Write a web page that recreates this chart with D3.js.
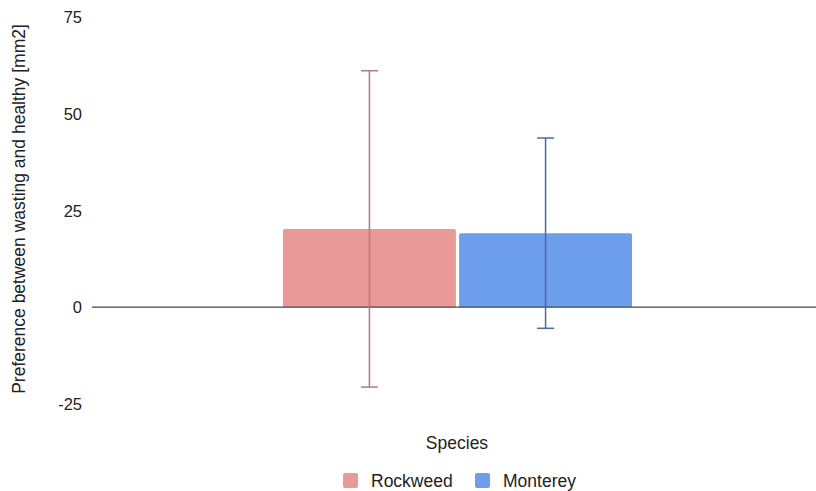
<!DOCTYPE html>
<html><head><meta charset="utf-8">
<script src="https://cdn.jsdelivr.net/npm/d3@7"></script>
<style>body{margin:0;background:#fff;}svg{display:block;font-family:"Liberation Sans",Arial,sans-serif;}</style>
</head><body><svg id="c" width="816" height="491"></svg>
<script>
const categories = [""];
const series = ["Rockweed", "Monterey"];
const values = [20.2, 19.1];
const errors = [40.9, 24.6];
const yTicks = [-25, 0, 25, 50, 75];
const colors = ["#ea9999", "#6d9eeb"];
const errColors = ["#b07a7e", "#4a6aa5"];

const svg = d3.select("#c");
const y = d3.scaleLinear().domain([-25, 75]).range([403.7, 17]);
const x0 = d3.scaleBand().domain(categories).range([92, 823]).paddingOuter(0.547).paddingInner(0);
const x1 = d3.scaleBand().domain(series).range([0, x0.bandwidth()]).paddingInner(0.018).paddingOuter(0);

// y tick labels
const yAxis = d3.axisLeft(y).tickValues(yTicks).tickSize(0).tickPadding(0).tickFormat(d => String(d));
const ga = svg.append("g").attr("transform", "translate(82,0)").call(yAxis);
ga.select(".domain").remove();
ga.selectAll("text").attr("font-size", 16.5).attr("fill", "#222").attr("font-family", "Liberation Sans, Arial, sans-serif").attr("dy", "0.35em");

const g = svg.append("g").attr("transform", `translate(${x0("")},0)`);
const r = 2;
series.forEach((s, i) => {
  const bx = x1(s), bw = x1.bandwidth();
  const top = y(values[i]), base = y(0);
  g.append("path")
    .attr("d", `M${bx},${base}V${top + r}Q${bx},${top} ${bx + r},${top}H${bx + bw - r}Q${bx + bw},${top} ${bx + bw},${top + r}V${base}Z`)
    .attr("fill", colors[i]);
});

// zero line
svg.append("line").attr("x1", 92).attr("x2", 816).attr("y1", y(0)).attr("y2", y(0))
  .attr("stroke", "#444").attr("stroke-width", 1.2);

// error bars
series.forEach((s, i) => {
  const cx = x0("") + x1(s) + x1.bandwidth() / 2;
  const hi = y(values[i] + errors[i]), lo = y(values[i] - errors[i]);
  const eg = svg.append("g").attr("stroke", errColors[i]).attr("stroke-width", 1.5);
  eg.append("line").attr("x1", cx).attr("x2", cx).attr("y1", hi).attr("y2", lo);
  eg.append("line").attr("x1", cx - 8.5).attr("x2", cx + 8.5).attr("y1", hi).attr("y2", hi);
  eg.append("line").attr("x1", cx - 8.5).attr("x2", cx + 8.5).attr("y1", lo).attr("y2", lo);
});

// axis titles
svg.append("text").attr("transform", "translate(25,209) rotate(-90)").attr("text-anchor", "middle")
  .attr("font-size", 17.5).attr("fill", "#222").text("Preference between wasting and healthy [mm2]");
svg.append("text").attr("x", 457).attr("y", 449).attr("text-anchor", "middle")
  .attr("font-size", 17.5).attr("fill", "#222").text("Species");

// legend
const legX = [343, 475];
series.forEach((s, i) => {
  svg.append("rect").attr("x", legX[i]).attr("y", 473).attr("width", 15).attr("height", 15).attr("rx", 2).attr("fill", colors[i]);
  svg.append("text").attr("x", legX[i] + 28).attr("y", 487).attr("font-size", 17.5).attr("fill", "#222").text(s);
});
</script></body></html>
